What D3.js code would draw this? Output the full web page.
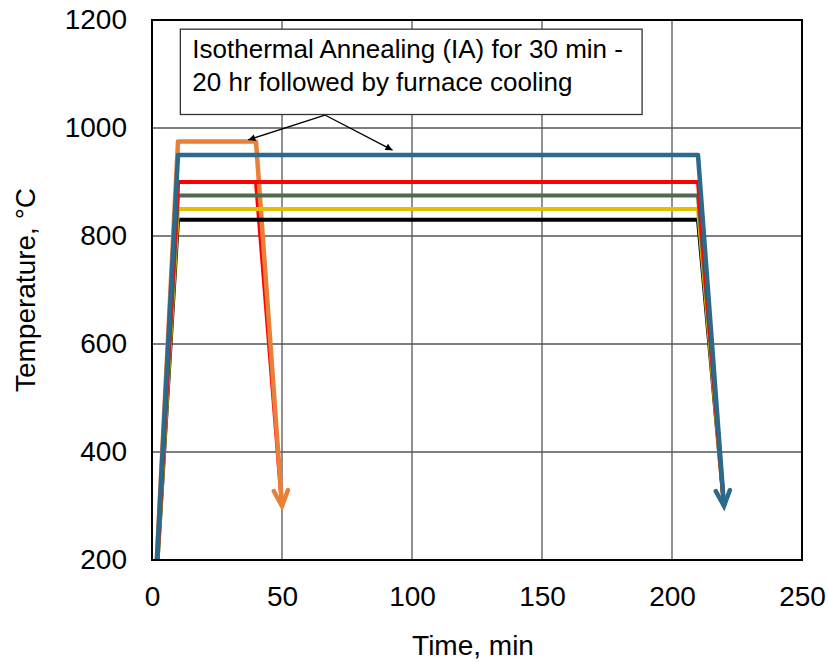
<!DOCTYPE html>
<html>
<head>
<meta charset="utf-8">
<script src="https://cdn.jsdelivr.net/npm/d3@7/dist/d3.min.js"></script>
<style>
  html, body { margin: 0; padding: 0; background: #fff; }
  svg { display: block; font-family: "Liberation Sans", Arial, sans-serif; }
</style>
</head>
<body>
<svg id="chart" width="828" height="662"></svg>
<script>
// Heat-treatment schedules: time (min) vs temperature (°C)
const longTime  = [0, 10, 210, 220];
const shortTime = [0, 10, 40, 50];

const ia900Short = [25, 900, 900, 300];
const ia975Short = [25, 975, 975, 300];
const ia830Long  = [25, 830, 830, 300];
const ia850Long  = [25, 850, 850, 300];
const ia875Long  = [25, 875, 875, 300];
const ia900Long  = [25, 900, 900, 300];
const ia950Long  = [25, 950, 950, 300];

const xTicks = [0, 50, 100, 150, 200, 250];
const yTicks = [200, 400, 600, 800, 1000, 1200];

const noteLines = ["Isothermal Annealing (IA) for 30 min -", "20 hr followed by furnace cooling"];

// drawing order: bottom to top
const series = [
  { t: shortTime, v: ia900Short, color: "#FF0000", w: 4,   arrow: false },
  { t: shortTime, v: ia975Short, color: "#E8803A", w: 4.5, arrow: true  },
  { t: longTime,  v: ia830Long,  color: "#000000", w: 4,   arrow: false },
  { t: longTime,  v: ia850Long,  color: "#E6BE00", w: 4,   arrow: false },
  { t: longTime,  v: ia875Long,  color: "#4E6B50", w: 4,   arrow: false },
  { t: longTime,  v: ia900Long,  color: "#FF0000", w: 4,   arrow: false },
  { t: longTime,  v: ia950Long,  color: "#2C6A8C", w: 4.5, arrow: true  }
];

const svg = d3.select("#chart");
const plotL = 152, plotR = 802, plotT = 20, plotB = 560;

const x = d3.scaleLinear().domain([0, 250]).range([plotL, plotR]);
const y = d3.scaleLinear().domain([200, 1200]).range([plotB, plotT]);

// gridlines
const grid = svg.append("g");
grid.selectAll("line.h").data(yTicks.filter(d => d > 200 && d < 1200)).join("line")
  .attr("class", "h")
  .attr("x1", plotL).attr("x2", plotR)
  .attr("y1", d => y(d)).attr("y2", d => y(d))
  .attr("stroke", "#555").attr("stroke-width", 1.3);
grid.selectAll("line.v").data(xTicks.filter(d => d > 0 && d < 250)).join("line")
  .attr("class", "v")
  .attr("y1", plotT).attr("y2", plotB)
  .attr("x1", d => x(d)).attr("x2", d => x(d))
  .attr("stroke", "#555").attr("stroke-width", 1.3);

// clip the traces to the plotting area
svg.append("clipPath").attr("id", "plotClip")
  .append("rect").attr("x", plotL).attr("y", plotT)
  .attr("width", plotR - plotL).attr("height", plotB - plotT);

const plot = svg.append("g").attr("clip-path", "url(#plotClip)");
const line = d3.line().x(d => x(d[0])).y(d => y(d[1]));

series.forEach(s => {
  const pts = s.t.map((t, i) => [t, s.v[i]]);
  plot.append("path")
    .attr("d", line(pts))
    .attr("fill", "none")
    .attr("stroke", s.color)
    .attr("stroke-width", s.w)
    .attr("stroke-linejoin", "round");
  if (s.arrow) {
    const a = pts[pts.length - 2], b = pts[pts.length - 1];
    const x0 = x(a[0]), y0 = y(a[1]), x1 = x(b[0]), y1 = y(b[1]);
    const ang = Math.atan2(y1 - y0, x1 - x0);
    const L = 17, spread = 0.43;
    const w1 = [x1 - L * Math.cos(ang - spread), y1 - L * Math.sin(ang - spread)];
    const w2 = [x1 - L * Math.cos(ang + spread), y1 - L * Math.sin(ang + spread)];
    plot.append("path")
      .attr("d", `M${w1[0]},${w1[1]}L${x1},${y1}L${w2[0]},${w2[1]}`)
      .attr("fill", "none")
      .attr("stroke", s.color)
      .attr("stroke-width", s.w)
      .attr("stroke-linejoin", "miter")
      .attr("stroke-linecap", "round");
  }
});

// plot frame
svg.append("rect")
  .attr("x", plotL).attr("y", plotT)
  .attr("width", plotR - plotL).attr("height", plotB - plotT)
  .attr("fill", "none").attr("stroke", "#000").attr("stroke-width", 2);

// axes
const xAxis = svg.append("g").attr("transform", `translate(0,${plotB})`)
  .call(d3.axisBottom(x).tickValues(xTicks).tickFormat(d3.format("d")).tickSize(0).tickPadding(26));
xAxis.select(".domain").remove();
xAxis.selectAll("text").attr("font-size", 28).attr("fill", "#000")
  .attr("font-family", "Liberation Sans, Arial, sans-serif");

const yAxis = svg.append("g").attr("transform", `translate(${plotL},0)`)
  .call(d3.axisLeft(y).tickValues(yTicks).tickFormat(d3.format("d")).tickSize(0).tickPadding(25));
yAxis.select(".domain").remove();
yAxis.selectAll("text").attr("font-size", 28).attr("fill", "#000")
  .attr("font-family", "Liberation Sans, Arial, sans-serif");

// axis titles
svg.append("text")
  .attr("x", (plotL + plotR) / 2 - 4).attr("y", 655)
  .attr("text-anchor", "middle").attr("font-size", 28).attr("fill", "#000")
  .text("Time, min");

svg.append("text")
  .attr("transform", `translate(35,${(plotT + plotB) / 2}) rotate(-90)`)
  .attr("text-anchor", "middle").attr("font-size", 28).attr("fill", "#000")
  .text("Temperature, °C");

// callout with pointer arrows
const defs = svg.append("defs");
defs.append("marker").attr("id", "tri")
  .attr("viewBox", "0 0 10 10").attr("refX", 10).attr("refY", 5)
  .attr("markerWidth", 10).attr("markerHeight", 7)
  .attr("markerUnits", "userSpaceOnUse")
  .attr("orient", "auto")
  .append("path").attr("d", "M0,0L10,5L0,10Z").attr("fill", "#000");

const noteOrigin = [66.5, 1024];
const noteTargets = [[37, 978], [92.5, 959]];
noteTargets.forEach(p => {
  svg.append("line")
    .attr("x1", x(noteOrigin[0])).attr("y1", y(noteOrigin[1]))
    .attr("x2", x(p[0])).attr("y2", y(p[1]))
    .attr("stroke", "#000").attr("stroke-width", 1.3)
    .attr("marker-end", "url(#tri)");
});

const boxX0 = 10.9, boxX1 = 188.5, boxY0 = 1183, boxY1 = 1025;
svg.append("rect")
  .attr("x", x(boxX0)).attr("y", y(boxY0))
  .attr("width", x(boxX1) - x(boxX0)).attr("height", y(boxY1) - y(boxY0))
  .attr("fill", "#fff").attr("stroke", "#333").attr("stroke-width", 1.3);

svg.append("g").selectAll("text").data(noteLines).join("text")
  .attr("x", x(boxX0) + 12)
  .attr("y", (d, i) => y(boxY0) + 29 + i * 33)
  .attr("font-size", 26).attr("fill", "#000")
  .text(d => d);
</script>
</body>
</html>
